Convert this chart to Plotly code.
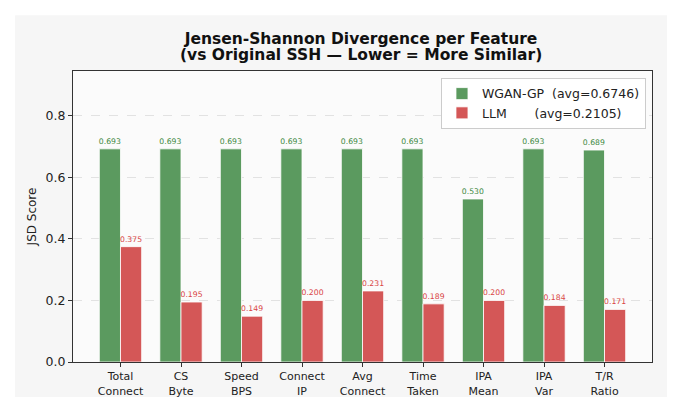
import plotly.graph_objects as go

# Feature names (two-line tick labels) and JSD scores per model
features = ["Total<br>Connect", "CS<br>Byte", "Speed<br>BPS", "Connect<br>IP", "Avg<br>Connect",
            "Time<br>Taken", "IPA<br>Mean", "IPA<br>Var", "T/R<br>Ratio"]
wgan_scores = [0.693, 0.693, 0.693, 0.693, 0.693, 0.693, 0.530, 0.693, 0.689]
llm_scores = [0.375, 0.195, 0.149, 0.200, 0.231, 0.189, 0.200, 0.184, 0.171]
wgan_name = "WGAN-GP\u00a0\u00a0(avg=0.6746)"
llm_name = "LLM\u00a0\u00a0\u00a0\u00a0\u00a0\u00a0\u00a0(avg=0.2105)"

green = "#5b9a5f"
red = "#d45757"

fig = go.Figure()

fig.add_trace(go.Bar(
    x=features, y=wgan_scores, name=wgan_name,
    marker=dict(color=green, line=dict(color="white", width=0.8)),
    text=[f"{v:.3f}" for v in wgan_scores], textposition="outside",
    textfont=dict(size=7.7, color="#3f8a43", family="DejaVu Sans"),
    constraintext="none", cliponaxis=False,
))
fig.add_trace(go.Bar(
    x=features, y=llm_scores, name=llm_name,
    marker=dict(color=red, line=dict(color="white", width=0.8)),
    text=[f"{v:.3f}" for v in llm_scores], textposition="outside",
    textfont=dict(size=7.7, color="#d94545", family="DejaVu Sans"),
    constraintext="none", cliponaxis=False,
))

# Gray figure panel and lighter plot area, drawn under everything
fig.add_shape(type="rect", xref="paper", yref="paper", x0=-0.100, x1=1.026, y0=-0.120, y1=1.192,
              fillcolor="#f6f6f6", line=dict(width=0), layer="below")
fig.add_shape(type="rect", xref="paper", yref="paper", x0=0, x1=1, y0=0, y1=1,
              fillcolor="#fbfbfb", line=dict(width=0), layer="below")

# second title line
fig.add_annotation(text="<b>(vs Original SSH \u2014 Lower = More Similar)</b>", xref="paper", yref="paper",
                   x=0.497, y=1.055, xanchor="center", yanchor="middle", showarrow=False,
                   font=dict(size=15.5, color="#111"))

fig.update_layout(
    width=682, height=413,
    margin=dict(l=65, r=38, t=63, b=59),
    paper_bgcolor="white", plot_bgcolor="rgba(0,0,0,0)",
    font=dict(family="DejaVu Sans", color="#222"),
    barmode="group", bargap=0.3, bargroupgap=0,
    title=dict(text="<b>Jensen-Shannon Divergence per Feature</b>",
               x=0.5176, xanchor="center", y=0.927, yanchor="middle",
               font=dict(size=15.5, color="#111")),
    legend=dict(x=0.9896, xanchor="right", y=0.976, yanchor="top",
                bgcolor="white", bordercolor="#cccccc", borderwidth=1,
                font=dict(size=12.5, color="#222")),
    xaxis=dict(range=[-0.785, 8.785], showline=True, mirror=True, linecolor="#333", linewidth=1,
               ticks="outside", ticklen=4, tickcolor="#333", tickfont=dict(size=11)),
    yaxis=dict(range=[0, 0.946], dtick=0.2, tickformat=".1f", showline=True, mirror=True,
               linecolor="#333", linewidth=1, ticks="outside", ticklen=4, tickcolor="#333",
               tickfont=dict(size=12.5), showgrid=True, gridcolor="#e2e2e2", griddash="dash",
               zeroline=False, title=dict(text="JSD Score", font=dict(size=12), standoff=6)),
)

fig.write_html("out.html")
